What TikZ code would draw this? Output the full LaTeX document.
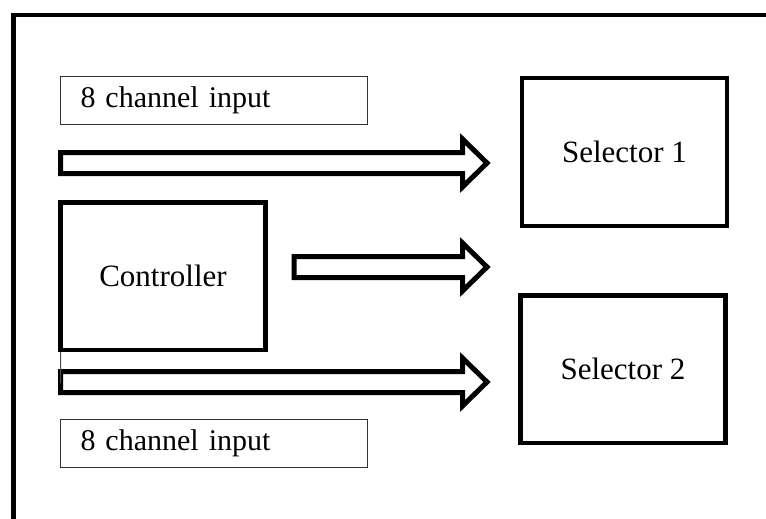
\documentclass[tikz,border=0pt]{standalone}
\usepackage{fontspec}
\setmainfont{Liberation Serif}
\begin{document}
\begin{tikzpicture}[x=1pt,y=-1pt,
  thickbox/.style={draw=black, line width=4.5pt, rectangle, minimum width=205pt,
    minimum height=147.5pt, inner sep=0pt, font=\fontsize{31}{35}\selectfont},
  labelbox/.style={draw=black!80, line width=1.3pt, rectangle, text width=267pt,
    inner xsep=20pt, inner ysep=0pt, minimum height=48pt, align=left,
    font=\fontsize{30}{34}\selectfont},
  blockarrow/.style={draw=black, line width=5pt, fill=white, line join=miter}
]
\useasboundingbox (0,0) rectangle (766,519);

% outer frame, open on the right and at the bottom
\draw[line width=4.5pt] (13.5,525) -- (13.5,15) -- (772,15);

% boxes
\node[labelbox] (in1) at (214,100.5) {8 channel input};
\node[labelbox] (in2) at (214,443.5) {8 channel input};
\node[thickbox] (sel1) at (624.5,152) {Selector 1};
\node[thickbox] (sel2) at (623,369) {Selector 2};
\node[thickbox] (ctrl) at (163,276) {Controller};

% hollow block arrows: start x, centre y
\newcommand\hollowarrow[2]{%
  \draw[blockarrow] (#1,#2-10.5) -- (462.5,#2-10.5) -- (462.5,#2-24)
    -- (487,#2) -- (462.5,#2+24) -- (462.5,#2+10.5) -- (#1,#2+10.5) -- cycle;}
\hollowarrow{60.5}{163}
\hollowarrow{294}{267}
\hollowarrow{60.5}{382}

% thin tick under the controller
\coordinate (tick) at (60.5,383);
\draw[line width=1pt, black!70] ([xshift=2.5pt]ctrl.south west) -- (tick);
\end{tikzpicture}
\end{document}
